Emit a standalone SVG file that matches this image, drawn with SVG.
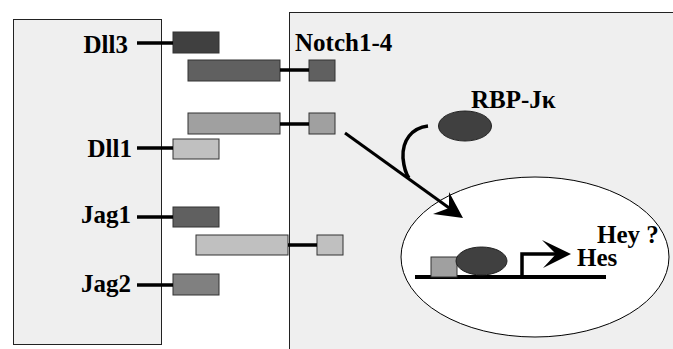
<svg xmlns="http://www.w3.org/2000/svg" width="673" height="349" viewBox="0 0 673 349">
<style>
.box{fill:#efefef;stroke:#222;stroke-width:1}
.lbl{font-family:"Liberation Serif","Times New Roman",serif;font-weight:bold;font-size:25px;fill:#000}
.r{stroke:#333;stroke-width:1}
.ln{stroke:#000;stroke-width:3.5;fill:none}
</style>
<rect width="673" height="349" fill="#fff"/>
<g id="cell-left"><rect class="box" x="13.5" y="19.5" width="148" height="325"/></g>
<g id="cell-right"><rect class="box" x="289.5" y="12.5" width="420" height="400"/></g>

<g id="Dll3"><text class="lbl" x="128" y="53" text-anchor="end">Dll3</text><rect class="r" x="173" y="32" width="46" height="21" fill="#404040"/></g>
<g id="Dll1"><text class="lbl" x="132" y="157" text-anchor="end">Dll1</text><rect class="r" x="173" y="139" width="46" height="20" fill="#c0c0c0"/></g>
<g id="Jag1"><text class="lbl" x="131" y="223" text-anchor="end">Jag1</text><rect class="r" x="173" y="207" width="46" height="20" fill="#606060"/></g>
<g id="Jag2"><text class="lbl" x="131" y="292" text-anchor="end">Jag2</text><rect class="r" x="173" y="274" width="46" height="21" fill="#808080"/></g>

<g id="notch-a"><rect class="r" x="188" y="60" width="92" height="21" fill="#606060"/><rect class="r" x="309" y="60" width="26" height="21" fill="#606060"/></g>
<g id="notch-b"><rect class="r" x="188" y="113" width="92" height="21" fill="#a0a0a0"/><rect class="r" x="309" y="113" width="26" height="21" fill="#a0a0a0"/></g>
<g id="notch-c"><rect class="r" x="196" y="235" width="92" height="20" fill="#c0c0c0"/><rect class="r" x="317" y="235" width="26" height="20" fill="#c0c0c0"/></g>
<g id="Notch-label"><text class="lbl" x="295" y="51">Notch1-4</text></g>

<g id="RBP"><ellipse cx="465" cy="126" rx="26.5" ry="15" fill="#404040" stroke="#222" stroke-width="1"/><text class="lbl" x="471" y="108">RBP-Jκ</text></g>

<g id="nucleus">
<ellipse cx="535" cy="257" rx="134" ry="80" fill="#fff" stroke="#000" stroke-width="1"/>
<line x1="415" y1="277" x2="606" y2="277" stroke="#000" stroke-width="4"/>
<rect class="r" x="431" y="257" width="26" height="20" fill="#a0a0a0"/>
<ellipse cx="481.5" cy="261" rx="25.5" ry="14" fill="#404040" stroke="#222" stroke-width="1"/>
<path d="M522,277 V254 H560" stroke="#000" stroke-width="3.5" fill="none"/>
<polygon points="571,254 542,240 556,254 543,268" fill="#000"/>
<text class="lbl" x="577" y="266">Hes</text>
<text class="lbl" x="597" y="243">Hey ?</text>
</g>

<g id="connectors">
<line class="ln" x1="137" y1="43" x2="173" y2="43"/>
<line class="ln" x1="137" y1="148" x2="173" y2="148"/>
<line class="ln" x1="137" y1="217" x2="173" y2="217"/>
<line class="ln" x1="137" y1="285" x2="173" y2="285"/>
<line class="ln" x1="280" y1="70" x2="309" y2="70"/>
<line class="ln" x1="280" y1="124" x2="309" y2="124"/>
<line class="ln" x1="288" y1="245" x2="317" y2="245"/>
<line stroke="#000" stroke-width="3" x1="345" y1="133" x2="452" y2="210"/>
<polygon points="463,218 433,214 449,208 449,192" fill="#000"/>
<path d="M428,126 C412,128 402,140 403,158 C404,168 406,174 409,178" stroke="#000" stroke-width="3.5" fill="none"/>
</g>
</svg>
